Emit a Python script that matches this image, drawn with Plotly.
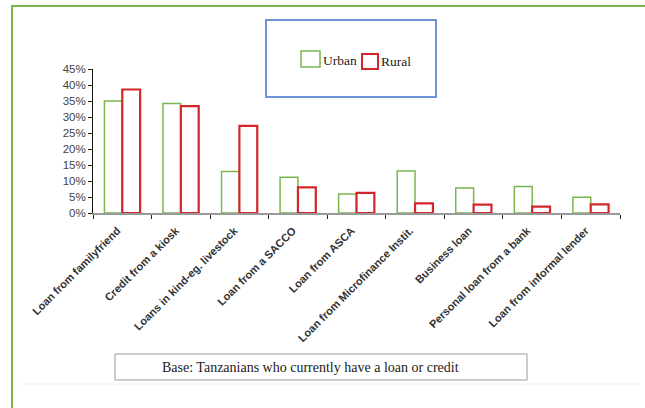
import plotly.graph_objects as go

categories = [
    "Loan from familyfriend",
    "Credit from a kiosk",
    "Loans in kind-eg. livestock",
    "Loan from a SACCO",
    "Loan from ASCA",
    "Loan from Microfinance Instit.",
    "Business loan",
    "Personal loan from a bank",
    "Loan from informal lender",
]
urban = [35.0, 34.2, 13.0, 11.2, 5.9, 13.1, 7.8, 8.3, 4.9]
rural = [38.6, 33.4, 27.2, 8.0, 6.3, 3.0, 2.6, 2.0, 2.7]
series_names = ["Urban", "Rural"]
y_ticks = [0, 5, 10, 15, 20, 25, 30, 35, 40, 45]
base_note = "Base: Tanzanians who currently have a loan or credit"

GREEN = "#79b74c"
RED = "#d3262b"
BLUE = "#6f93d8"

# plot-area pixel geometry (for converting overlay positions)
L, R, T, B = 93, 620, 69, 213
W_, H_ = 645, 408


def px(x):
    return (x - L) / (R - L)


def py(y):
    return (B - y) / (B - T)


fig = go.Figure()
fig.add_trace(go.Bar(
    x=categories, y=urban, name=series_names[0],
    marker=dict(color="white", line=dict(color=GREEN, width=1.5)),
))
fig.add_trace(go.Bar(
    x=categories, y=rural, name=series_names[1],
    marker=dict(color="white", line=dict(color=RED, width=2.2)),
))

shapes = []
# outer green frame (top and left edges visible) as a single open path
frame_path = (f"M {px(12)} {py(420)} L {px(12)} {py(6)} L {px(700)} {py(6)}")
shapes.append(dict(type="path", xref="paper", yref="paper", path=frame_path,
                   line=dict(color=GREEN, width=2)))
# faint line near bottom
shapes.append(dict(type="line", xref="paper", yref="paper",
                   x0=px(20), x1=px(640), y0=py(384), y1=py(384),
                   line=dict(color="#eeeeee", width=1)))
# legend box
shapes.append(dict(type="rect", xref="paper", yref="paper",
                   x0=px(266), x1=px(436), y0=py(20), y1=py(97),
                   line=dict(color=BLUE, width=2), fillcolor="white"))
# legend symbols
shapes.append(dict(type="rect", xref="paper", yref="paper",
                   x0=px(301), x1=px(320), y0=py(51), y1=py(67),
                   line=dict(color=GREEN, width=1.5), fillcolor="white"))
shapes.append(dict(type="rect", xref="paper", yref="paper",
                   x0=px(362), x1=px(378), y0=py(54), y1=py(69),
                   line=dict(color=RED, width=2), fillcolor="white"))
# base note box
shapes.append(dict(type="rect", xref="paper", yref="paper",
                   x0=px(115), x1=px(527), y0=py(354), y1=py(380),
                   line=dict(color="#9a9a9a", width=1), fillcolor="white"))

annotations = [
    dict(text=series_names[0], xref="paper", yref="paper", x=px(321), y=py(60),
         xanchor="left", yanchor="middle", showarrow=False,
         font=dict(family="Liberation Serif", size=13.5, color="#222")),
    dict(text=series_names[1], xref="paper", yref="paper", x=px(379), y=py(61),
         xanchor="left", yanchor="middle", showarrow=False,
         font=dict(family="Liberation Serif", size=13.5, color="#222")),
    dict(text=base_note, xref="paper", yref="paper", x=px(310), y=py(367),
         xanchor="center", yanchor="middle", showarrow=False,
         font=dict(family="Liberation Serif", size=14, color="#222")),
]

fig.update_layout(
    width=W_, height=H_,
    margin=dict(l=L, r=W_ - R, t=T, b=H_ - B, pad=0),
    paper_bgcolor="white", plot_bgcolor="white",
    barmode="group", bargap=0.39, bargroupgap=0,
    showlegend=False,
    shapes=shapes, annotations=annotations,
    font=dict(family="Liberation Sans"),
)
fig.update_xaxes(
    type="category", showgrid=False, zeroline=False,
    showline=True, linecolor="#999999", linewidth=2,
    ticks="outside", tickson="boundaries", ticklen=4, tickcolor="#222",
    tickangle=-45, ticklabelstandoff=5, ticklabelshift=-5,
    tickfont=dict(family="Liberation Sans", size=11, color="#333", weight="bold"),
)
fig.update_yaxes(
    range=[0, 45], tickvals=y_ticks, ticktext=[f"{v}%" for v in y_ticks],
    showgrid=False, zeroline=False,
    showline=True, linecolor="#111111", linewidth=1,
    ticks="outside", ticklen=4, tickcolor="#222",
    tickfont=dict(family="Liberation Sans", size=11.5, color="#444"),
)

fig.write_html("out.html")
